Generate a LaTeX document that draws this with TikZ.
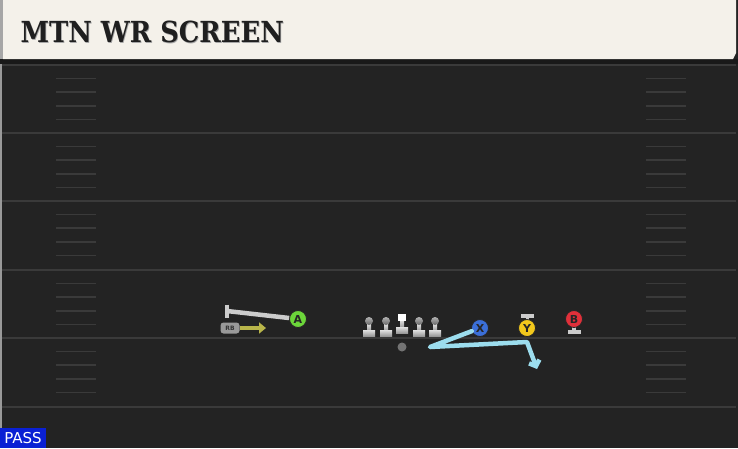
\documentclass[tikz,border=0pt]{standalone}
\usepackage{fontspec}
\setmainfont{DejaVu Sans}
\newfontfamily\titlefont{DejaVu Serif}[FakeStretch=0.89,BoldFeatures={FakeStretch=0.89}]
\usepackage{xcolor}
\usetikzlibrary{arrows.meta,positioning}

\definecolor{fieldbg}{HTML}{232323}
\definecolor{yardline}{HTML}{3A3A3A}
\definecolor{hashmark}{HTML}{3A3A3A}
\definecolor{titlebg}{HTML}{F4F1EA}
\definecolor{passblue}{HTML}{0A20D4}
\definecolor{routeblue}{HTML}{9CDDEE}
\definecolor{rbolive}{HTML}{B8B54A}
\definecolor{agreen}{HTML}{6CD63A}
\definecolor{xblue}{HTML}{3B6FD8}
\definecolor{yyellow}{HTML}{F2C81C}
\definecolor{bred}{HTML}{E0303A}

\tikzset{
	player/.style={circle,draw=black!85,line width=0.8pt,minimum size=17pt,inner sep=0pt,
		font=\bfseries\fontsize{11}{11}\selectfont,text=black!85},
	olbody/.style={top color=white!88!black,bottom color=black!40},
	olhead/.style={circle,minimum size=8pt,inner sep=0pt,top color=black!30,bottom color=black!60},
	blockline/.style={draw=white!80!black,line width=4.5pt},
	route/.style={draw=routeblue,line width=4.5pt,line join=round,line cap=round}
}

\begin{document}
\begin{tikzpicture}[x=1pt,y=-1pt]
		\fill[fieldbg] (0,0) rectangle (738,448);
		\useasboundingbox (0,0) rectangle (738,448);
		\foreach \y in {65,133,201,270,338,407}
			\draw[yardline,line width=2pt] (2,\y) -- (736,\y);
		\foreach \y in {65,133,201,270,338}
			\foreach \k in {1,...,4}
			{
				\draw[hashmark,line width=1.5pt] (56,\y+\k*13.6) -- (96,\y+\k*13.6);
				\draw[hashmark,line width=1.5pt] (646,\y+\k*13.6) -- (686,\y+\k*13.6);
			}
		\fill[black!40] (0,63) rectangle (2,428);
		\fill[black!90] (0,59) rectangle (738,64);
		\fill[black!35] (0,0) rectangle (3,59);
		\fill[titlebg] (3,0) -- (736,0) -- (736,53) -- (733,59) -- (3,59) -- cycle;
		\node[anchor=west,text=black!35,font=\titlefont\bfseries\fontsize{29}{29}\selectfont] (titleshadow) at (17.8,33) {MTN WR SCREEN};
		\node[anchor=west,text=black!88,font=\titlefont\bfseries\fontsize{29}{29}\selectfont] (title) at (17,32) {MTN WR SCREEN};
		\fill[passblue] (0,428) rectangle (46,448);
		\node[text=white,font=\fontsize{15}{15}\selectfont] (pass) at (23,438.5) {PASS};

		\foreach \x/\n in {369/L1,386/L2,419/L4,435/L5}
		{
			\fill[olbody] (\x-2,324) rectangle (\x+2,331);
			\fill[olbody] (\x-6,330) rectangle (\x+6,336);
			\node[olhead] (\n) at (\x,321) {};
		}
		\fill[olbody] (400,320) rectangle (404,328);
		\fill[olbody] (396,327) rectangle (408,333);
		\node[fill=white,minimum width=8pt,minimum height=7pt,inner sep=0pt] (C) at (402,317.5) {};
		\node[circle,fill=black!55,minimum size=9pt,inner sep=0pt] (QB) at (402,347) {};

		\coordinate (blockA) at (227,311);
		\node[player,fill=agreen] (A) at (298,319) {A};
		\draw[blockline] (A) -- (blockA);
		\draw[white!80!black,line width=3.5pt] (227,304.5) -- (227,317.5);
		\node[rounded corners=3pt,fill=black!40,minimum width=19pt,minimum height=11pt,inner sep=0pt,
			text=black!80,font=\bfseries\fontsize{6}{6}\selectfont] (RB) at (230,328) {RB};
		\coordinate (rbend) at (266,328);
		\draw[rbolive,line width=3.5pt,-{Triangle[width=11pt,length=7pt]}] (RB) -- (rbend);

		\fill[white!80!black] (526,316) rectangle (529,321);
		\fill[white!80!black] (521,314) rectangle (534,317.5);
		\node[player,fill=yyellow] (Y) at (527,328) {Y};
		\fill[white!80!black] (572,326) rectangle (576,331);
		\fill[white!80!black] (568,330) rectangle (581,334);
		\node[player,fill=bred] (B) at (574,319) {B};

		\node[player,fill=xblue] (X) at (480,328) {X};
		\coordinate (xback) at (430,347);
		\coordinate (xturn) at (527,342);
		\coordinate (xend) at (537,369);
		\draw[route,-{Straight Barb[length=5pt,width=11pt]}] (X) -- (xback) -- (xturn) -- (xend);
	\end{tikzpicture}
\end{document}
